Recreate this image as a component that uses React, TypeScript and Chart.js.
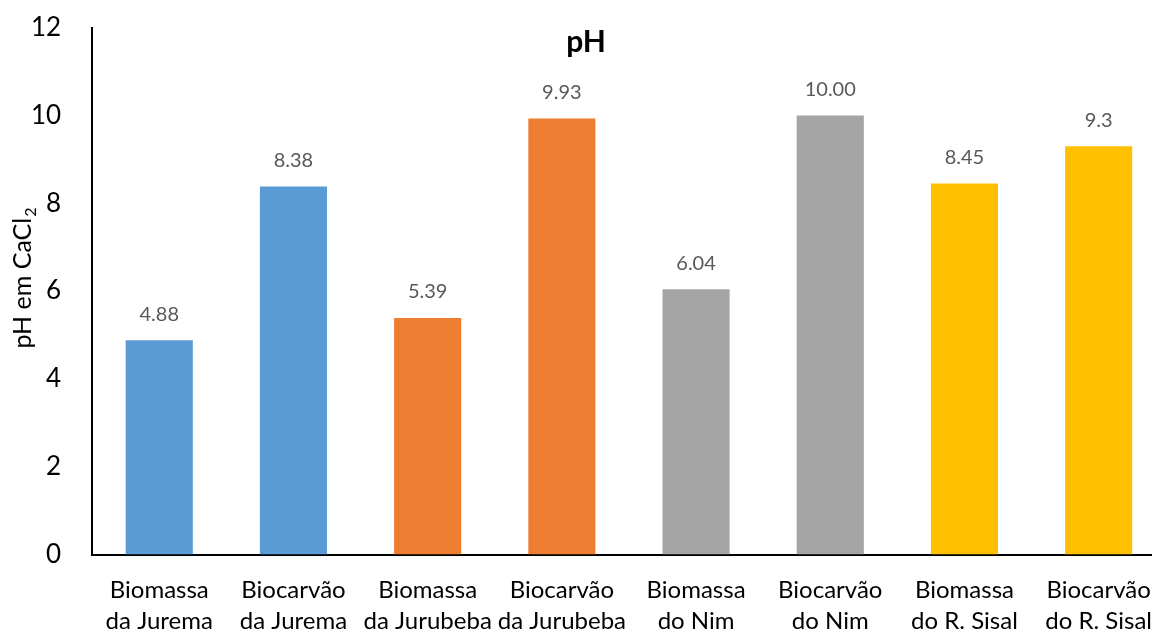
import React, { useEffect, useRef } from "react";
import { Chart, registerables } from "chart.js";

Chart.register(...registerables);

const categories: string[][] = [
  ["Biomassa", "da Jurema"],
  ["Biocarvão", "da Jurema"],
  ["Biomassa", "da Jurubeba"],
  ["Biocarvão", "da Jurubeba"],
  ["Biomassa", "do Nim"],
  ["Biocarvão", "do Nim"],
  ["Biomassa", "do R. Sisal"],
  ["Biocarvão", "do R. Sisal"],
];
const phValues: number[] = [4.88, 8.38, 5.39, 9.93, 6.04, 10.0, 8.45, 9.3];
const valueLabels: string[] = ["4.88", "8.38", "5.39", "9.93", "6.04", "10.00", "8.45", "9.3"];
const barColors: string[] = [
  "#5B9BD5", "#5B9BD5",
  "#ED7D31", "#ED7D31",
  "#A5A5A5", "#A5A5A5",
  "#FFC000", "#FFC000",
];
const yTicks: number[] = [0, 2, 4, 6, 8, 10, 12];
const titleText = "pH";
const yTitleMain = "pH em CaCl";
const yTitleSub = "2";

const FONT = "Lato, 'Open Sans', sans-serif";
const SHIFT_Y = 19;

const labelPlugin = {
  id: "valueLabels",
  afterDatasetsDraw(chart: any) {
    const ctx = chart.ctx;
    const meta = chart.getDatasetMeta(0);
    ctx.save();
    ctx.font = `20px ${FONT}`;
    ctx.fillStyle = "#595959";
    ctx.textAlign = "center";
    ctx.textBaseline = "middle";
    meta.data.forEach((bar: any, i: number) => {
      ctx.fillText(valueLabels[i], bar.x, bar.y - 26);
    });
    ctx.restore();
  },
};

const titlePlugin = {
  id: "insideTitle",
  afterDraw(chart: any) {
    const ctx = chart.ctx;
    const area = chart.chartArea;
    ctx.save();
    ctx.font = `bold 30px ${FONT}`;
    ctx.fillStyle = "#000";
    ctx.textAlign = "center";
    ctx.textBaseline = "middle";
    ctx.fillText(titleText, chart.width / 2, area.top + 15);
    ctx.restore();

    // rotated y-axis title with subscript
    ctx.save();
    const cx = 23;
    const cy = (area.top + area.bottom) / 2 - 13;
    ctx.translate(cx, cy);
    ctx.rotate(-Math.PI / 2);
    ctx.fillStyle = "#000";
    ctx.textBaseline = "middle";
    ctx.font = `25px ${FONT}`;
    const wMain = ctx.measureText(yTitleMain).width;
    ctx.font = `16px ${FONT}`;
    const wSub = ctx.measureText(yTitleSub).width;
    const total = wMain + wSub + 1;
    ctx.textAlign = "left";
    ctx.font = `25px ${FONT}`;
    ctx.fillText(yTitleMain, -total / 2, 0);
    ctx.font = `16px ${FONT}`;
    ctx.fillText(yTitleSub, -total / 2 + wMain + 1, 8);
    ctx.restore();
  },
};

export default function App() {
  const ref = useRef<HTMLCanvasElement | null>(null);
  useEffect(() => {
    document.body.style.margin = "0";
    if (!ref.current) return;
    const chart = new Chart(ref.current, {
      type: "bar",
      data: {
        labels: categories,
        datasets: [
          {
            data: phValues,
            backgroundColor: barColors,
            barPercentage: 0.5,
            categoryPercentage: 1,
          },
        ],
      },
      options: {
        responsive: false,
        animation: false,
        layout: { padding: 0 },
        plugins: {
          legend: { display: false },
          tooltip: { enabled: false },
          title: { display: false },
        },
        scales: {
          x: {
            grid: { display: false, drawTicks: false },
            border: { display: true, color: "#000", width: 2 },
            ticks: {
              color: "#000",
              font: { family: FONT, size: 24, lineHeight: 1.3 },
              padding: 20,
              maxRotation: 0,
              autoSkip: false,
            },
          },
          y: {
            min: 0,
            max: 12,
            afterBuildTicks: (axis: any) => {
              axis.ticks = yTicks.map((v) => ({ value: v }));
            },
            grid: { display: false, drawTicks: false },
            border: { display: true, color: "#000", width: 2 },
            ticks: {
              color: "#000",
              font: { family: FONT, size: 26 },
              padding: 31,
            },
          },
        },
      },
      plugins: [labelPlugin, titlePlugin],
    });
    return () => chart.destroy();
  }, []);
  return (
    <div style={{ width: 1152, height: 631, overflow: "hidden", position: "relative" }}>
      <canvas
        ref={ref}
        width={1172}
        height={676}
        style={{ display: "block", position: "absolute", left: 0, top: -SHIFT_Y }}
      />
    </div>
  );
}
